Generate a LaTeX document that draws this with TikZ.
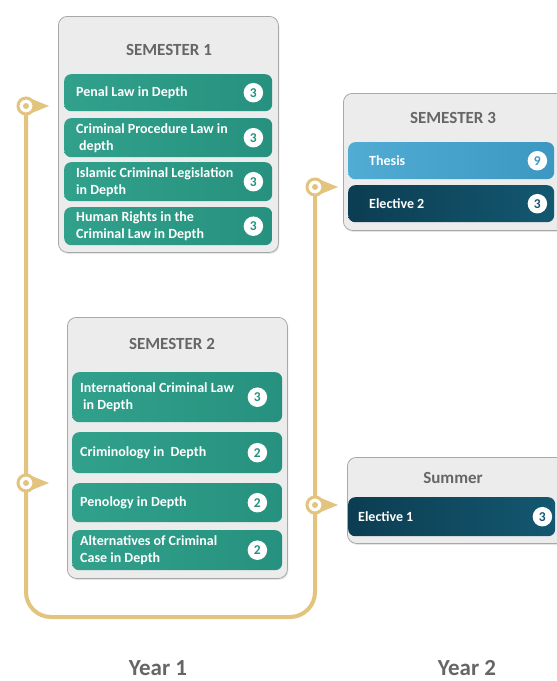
\documentclass[tikz,border=0pt]{standalone}
\usepackage{fontspec}
\setmainfont{Carlito}
\usetikzlibrary{shadows}
\definecolor{gold}{HTML}{E2C47E}
\definecolor{panel}{HTML}{ECECEC}
\definecolor{panelborder}{HTML}{A8A8A8}
\definecolor{titlegray}{HTML}{666666}
\definecolor{tealA}{HTML}{31A18C}
\definecolor{tealB}{HTML}{26917E}
\definecolor{blueA}{HTML}{50ACD3}
\definecolor{blueB}{HTML}{3C98C1}
\definecolor{navyA}{HTML}{0C3D52}
\definecolor{navyB}{HTML}{135870}
\tikzset{
  panelbox/.style={draw=panelborder, fill=panel, rounded corners=9pt, line width=0.8pt,
    anchor=north west, inner sep=0pt,
    drop shadow={opacity=0.2, shadow xshift=1pt, shadow yshift=-1.5pt}},
  course/.style={rounded corners=7pt, inner sep=0pt, anchor=north west},
  ctext/.style={text=white, font=\fontsize{14}{17}\selectfont\bfseries, align=left, anchor=west, inner sep=0pt},
  badge/.style={circle, fill=white, minimum size=19.5pt, inner sep=0pt, font=\fontsize{13.5}{13.5}\selectfont\bfseries},
  ptitle/.style={text=titlegray, font=\fontsize{17}{19}\selectfont\bfseries},
  yearlbl/.style={text=titlegray, font=\fontsize{23}{25}\selectfont\bfseries},
  track/.style={draw=gold, line width=4pt},
}
\newcommand\courserow[9]{%
  \node[course, minimum width=#4pt, minimum height=#5pt, left color=#2A, right color=#2B] (#1) at (#3) {};
  \node[ctext] (#1t) at ([xshift=#6pt]#1.west) {#8};
  \node[badge, text=#2B] (#1b) at ([xshift=-#7pt]#1.east) {#9};
}
\newcommand\trackmarker[1]{%
  \fill[gold, shift={(#1)}] (7,-6.5) -- (23,0) -- (7,6.5) -- cycle;
  \draw[gold, line width=3pt, fill=white] (#1) circle (8pt);
  \fill[gold] (#1) circle (3pt);
}
\begin{document}
\begin{tikzpicture}[x=1pt, y=-1pt]
\useasboundingbox (0,0) rectangle (557,681);
\fill[white] (0,0) rectangle (557,681);
\clip (0,0) rectangle (557,681);

% track
\coordinate (m1) at (26,106);
\coordinate (m2) at (26,483);
\coordinate (m3) at (315,187);
\coordinate (m4) at (315,505);
\draw[track, rounded corners=25pt] (m1) -- (m2) -- (26,617) -- (315,617) -- (m4) -- (m3);
\trackmarker{m1}
\trackmarker{m2}
\trackmarker{m3}
\trackmarker{m4}

% panels
\node[panelbox, minimum width=220pt, minimum height=236pt] (s1) at (58,16) {};
\node[panelbox, minimum width=220pt, minimum height=261pt] (s2) at (67,317) {};
\node[panelbox, minimum width=230pt, minimum height=137pt] (s3) at (343,93) {};
\node[panelbox, minimum width=230pt, minimum height=86pt] (su) at (347,457) {};

\node[ptitle] (t1) at (169,50) {SEMESTER 1};
\node[ptitle] (t2) at (172,344) {SEMESTER 2};
\node[ptitle] (t3) at (453,118) {SEMESTER 3};
\node[ptitle] (t4) at (453,478) {Summer};

% semester 1
\courserow{p1}{teal}{64,74}{208}{37}{12}{19}{Penal Law in Depth}{3}
\courserow{p2}{teal}{64,118}{208}{39}{12}{19}{Criminal Procedure Law in\\\hspace*{3pt}depth}{3}
\courserow{p3}{teal}{64,162}{208}{39}{12}{19}{Islamic Criminal Legislation\\in Depth}{3}
\courserow{p4}{teal}{64,207}{208}{38}{12}{19}{Human Rights in the\\Criminal Law in Depth}{3}

% semester 2
\courserow{q1}{teal}{72,372}{210}{50}{8}{25}{International Criminal Law\\\hspace*{3pt}in Depth}{3}
\courserow{q2}{teal}{72,432}{210}{41}{8}{25}{Criminology in\ \ Depth}{2}
\courserow{q3}{teal}{72,483}{210}{39}{8}{25}{Penology in Depth}{2}
\courserow{q4}{teal}{72,530}{210}{40}{8}{25}{Alternatives of Criminal\\Case in Depth}{2}

% semester 3
\courserow{r1}{blue}{348,142}{206}{37}{21}{17}{Thesis}{9}
\courserow{r2}{navy}{348,185}{206}{37}{21}{17}{Elective 2}{3}

% summer
\courserow{e1}{navy}{348,497}{207}{39}{10}{13}{Elective 1}{3}

\node[yearlbl] (y1) at (158,668) {Year 1};
\node[yearlbl] (y2) at (467,668) {Year 2};
\end{tikzpicture}
\end{document}
